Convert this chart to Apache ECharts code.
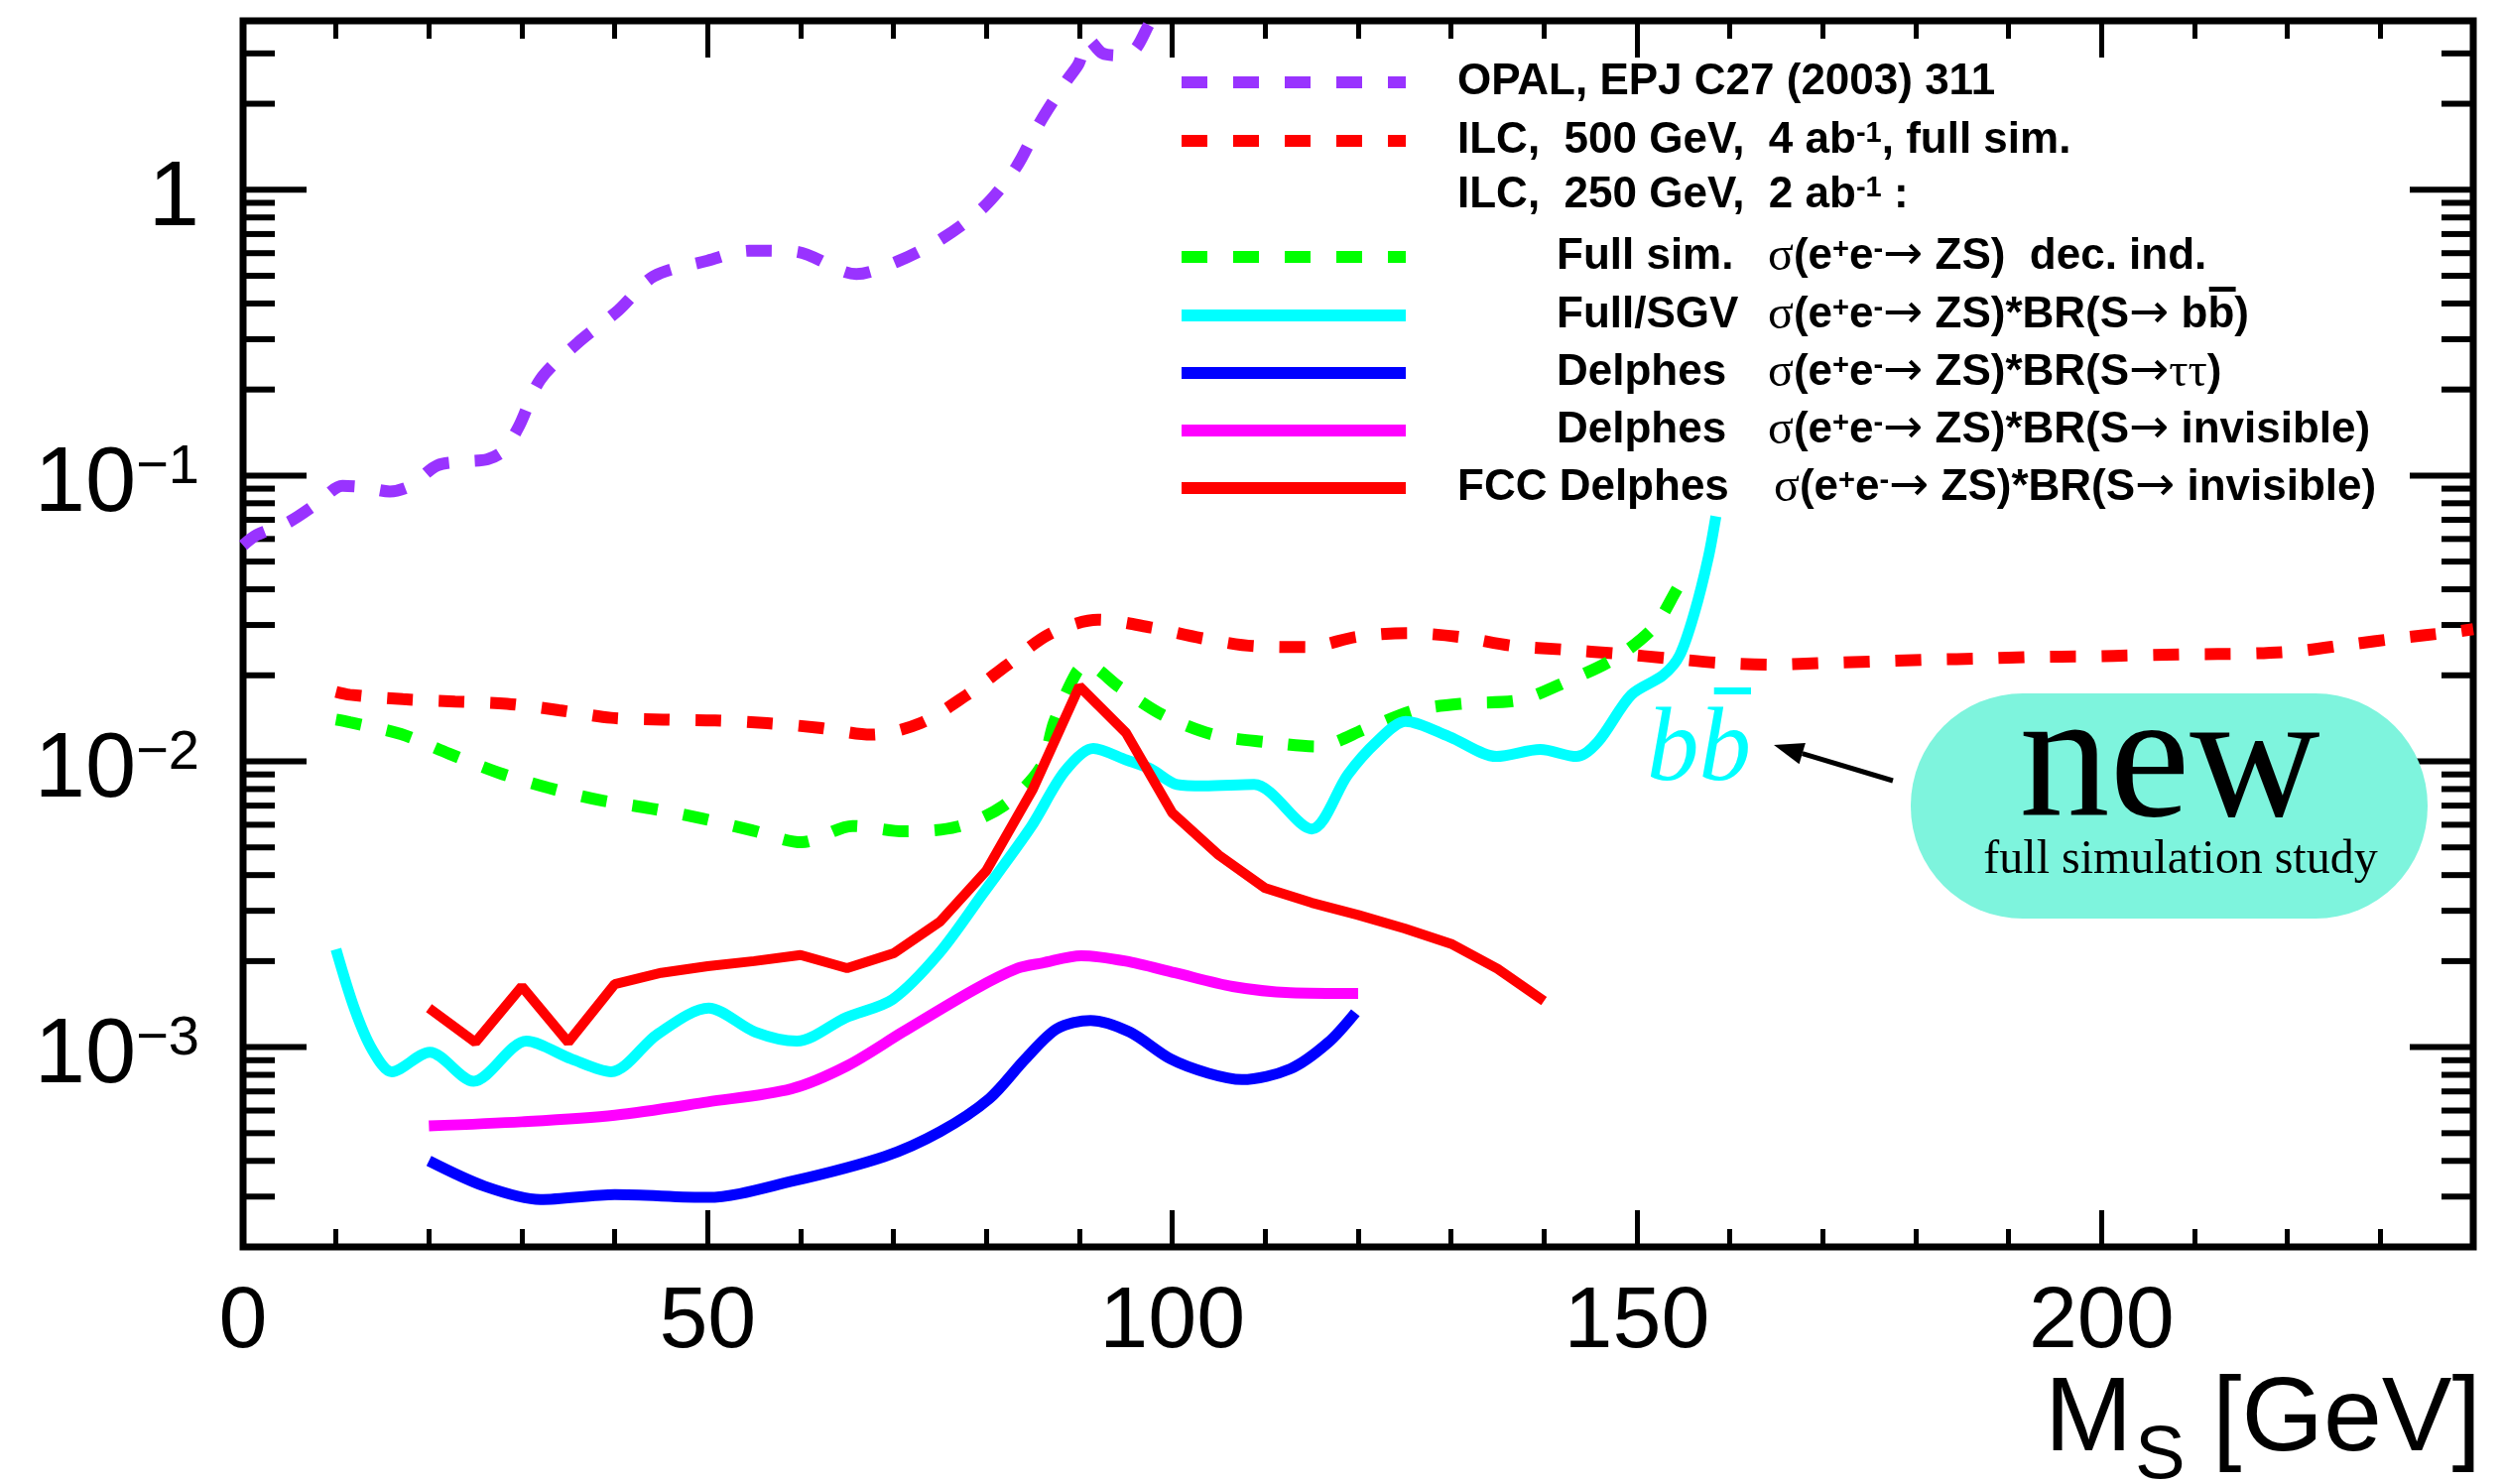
<!DOCTYPE html>
<html><head><meta charset="utf-8">
<script src="https://cdn.jsdelivr.net/npm/echarts@6/dist/echarts.min.js"></script>
<style>html,body{margin:0;padding:0;background:#fff}#c{width:2524px;height:1496px}</style>
</head><body><div id="c"></div>
<script>
// ---------------- data ----------------
const opalX = [0, 1.5, 5, 8, 10.7, 13, 15.8, 18, 20.9, 24, 26.3, 28, 29.7, 32, 36, 40.4, 44.2, 50, 54.5, 59.3, 64.6, 66, 70.4, 75.2, 79.7, 83.2, 85.8, 88.6, 89.9, 91, 92.5, 94.5, 96, 97.5, 99];
const opalY = [0.057, 0.062, 0.069, 0.08, 0.092, 0.091, 0.088, 0.092, 0.1085, 0.112, 0.114, 0.122, 0.149, 0.217, 0.291, 0.379, 0.498, 0.565, 0.612, 0.608, 0.518, 0.507, 0.561, 0.674, 0.869, 1.2, 1.73, 2.4, 2.75, 3.35, 3.0, 2.95, 3.1, 3.8, 4.6];

const ilc500X = [10, 11.5, 17.2, 22.8, 28.4, 34, 39.6, 45.2, 50.8, 56.4, 62, 67.6, 72.9, 77.8, 82.2, 86.8, 92, 97.7, 103.1, 108.8, 114.5, 119.9, 125.4, 131.1, 136.5, 142.2, 147.9, 153.6, 159, 164.6, 170.3, 176, 181.6, 187.2, 192.8, 198.5, 204.1, 209.7, 215.3, 221, 226.5, 232.1, 237.6, 240];
const ilc500Y = [0.0175, 0.0171, 0.0165, 0.0162, 0.0159, 0.0151, 0.0142, 0.014, 0.0139, 0.0136, 0.0131, 0.0124, 0.0136, 0.017, 0.0217, 0.0279, 0.0313, 0.0294, 0.027, 0.0253, 0.0251, 0.0273, 0.0281, 0.0272, 0.0254, 0.0246, 0.0238, 0.0229, 0.0221, 0.0218, 0.0221, 0.0224, 0.0227, 0.0229, 0.0232, 0.0233, 0.0235, 0.0237, 0.0238, 0.0243, 0.0256, 0.027, 0.0283, 0.029];

const fullSimX = [10, 11.5, 17, 22.2, 27.5, 32.8, 38.3, 43.9, 49.4, 54.9, 60.1, 65.6, 71.1, 76.8, 81.8, 85.8, 87.3, 89.7, 90.8, 94.3, 99, 104.4, 110.1, 115.5, 121, 126.1, 131.6, 137.3, 142.4, 147.6, 151.8, 154.3, 155];
const fullSimY = [0.014, 0.0137, 0.01245, 0.01063, 0.00912, 0.00809, 0.00733, 0.00684, 0.00631, 0.00572, 0.00521, 0.00594, 0.00569, 0.0059, 0.00698, 0.00948, 0.01377, 0.0205, 0.0218, 0.0182, 0.01452, 0.0124, 0.01168, 0.01128, 0.01306, 0.0151, 0.01596, 0.01637, 0.019, 0.0229, 0.0294, 0.04, 0.044];

const bbX = [10, 12, 13.9, 16, 20.1, 24.8, 30.5, 35.3, 39.6, 44.6, 50.1, 55.1, 59.6, 64.9, 69.9, 74.9, 79.6, 84.8, 88.4, 91.5, 95.1, 97.7, 100.5, 103.4, 108.8, 115, 118.9, 122, 125.1, 129.8, 134.9, 139.6, 143.5, 145.8, 149.4, 152.8, 154.6, 156.2, 157.7, 158.5];
const bbY = [0.0022, 0.00136, 0.00098, 0.00082, 0.00096, 0.00076, 0.00105, 0.00091, 0.00082, 0.00111, 0.00137, 0.00113, 0.00105, 0.00127, 0.00147, 0.00213, 0.00344, 0.0059, 0.0092, 0.0111, 0.0101, 0.0094, 0.0083, 0.0082, 0.0083, 0.0058, 0.009, 0.0117, 0.0138, 0.0122, 0.0104, 0.011, 0.0104, 0.0117, 0.0171, 0.02, 0.0235, 0.0332, 0.052, 0.072];

const tautauX = [20, 26, 32, 40, 50, 59, 69, 75, 80.3, 84.2, 87.6, 91.2, 95.4, 99.8, 103.9, 107.5, 112.7, 116.8, 119.7];
const tautauY = [0.0004, 0.000326, 0.000293, 0.000305, 0.000298, 0.000339, 0.000414, 0.000506, 0.00066, 0.00091, 0.00116, 0.00124, 0.00113, 0.00091, 0.00081, 0.00077, 0.00084, 0.00104, 0.00132];

const invisX = [20, 30, 40, 50, 59, 65, 71, 78.7, 83.4, 86, 90.2, 95, 100.3, 106.5, 112.7, 120];
const invisY = [0.00053, 0.000548, 0.000578, 0.000643, 0.000715, 0.00086, 0.00113, 0.00159, 0.00189, 0.00197, 0.00209, 0.002, 0.00182, 0.00163, 0.00155, 0.00154];

const fccX = [20, 25, 30, 35, 40, 45, 50, 55, 60, 65, 70, 75, 80, 85, 90, 95, 100, 105, 110, 115, 120, 125, 130, 135, 140];
const fccY = [0.00137, 0.00104, 0.00163, 0.00104, 0.00166, 0.00182, 0.00192, 0.002, 0.0021, 0.00189, 0.00213, 0.00275, 0.00415, 0.0080, 0.0183, 0.0126, 0.0066, 0.0047, 0.0036, 0.0032, 0.0029, 0.0026, 0.0023, 0.00188, 0.00145];

// axes / ticks
const xMin = 0, xMax = 240, xMajorStep = 50, xMinorStep = 10;
const yMin = 2e-4, yMax = 3.9;
const yMajorTickValues = [1e-3, 1e-2, 1e-1, 1];
const yMinorMultipliers = [2, 3, 4, 5, 6, 7, 8, 9];
const yDecades = [-4, -3, -2, -1, 0];

// ---------------- helpers ----------------
const zip = (xs, ys) => xs.map((x, i) => [x, ys[i]]);
const yTicks = []; // [x, value, isMajor]
yMajorTickValues.forEach(v => yTicks.push([xMin, v, 1]));
yDecades.forEach(d => yMinorMultipliers.forEach(m => {
  const v = m * Math.pow(10, d);
  if (v > yMin * 1.01 && v < yMax) yTicks.push([xMin, v, 0]);
}));

const cvs = document.createElement('canvas').getContext('2d');
const RICH = {
  b: {fontFamily: 'Liberation Sans', fontWeight: 'bold', fontSize: 44, lineHeight: 44, fill: '#000'},
  p: {fontFamily: 'Liberation Sans', fontWeight: 'bold', fontSize: 29, lineHeight: 18, verticalAlign: 'top', fill: '#000'},
  g: {fontFamily: 'Liberation Serif', fontWeight: 'normal', fontSize: 48, lineHeight: 44, fill: '#000'},
  a: {fontFamily: 'DejaVu Sans', fontWeight: 'normal', fontSize: 48, lineHeight: 44, fill: '#000'}
};
function tokW(s, t) {
  const st = RICH[s];
  cvs.font = `${st.fontWeight} ${st.fontSize}px "${st.fontFamily}"`;
  return cvs.measureText(t).width;
}
const richStr = toks => toks.map(([s, t]) => `{${s}|${t}}`).join('');

const sigZS = [['g', 'σ'], ['b', '(e'], ['p', '+'], ['b', 'e'], ['p', '-'], ['a', '→'], ['b', ' ZS)']];
const tokDec = sigZS.concat([['b', '  dec. ind.']]);
const tokBB = sigZS.concat([['b', '*BR(S'], ['a', '→'], ['b', ' b'], ['b', 'b'], ['b', ')']]);
const tokTT = sigZS.concat([['b', '*BR(S'], ['a', '→'], ['g', 'ττ'], ['b', ')']]);
const tokInv = sigZS.concat([['b', '*BR(S'], ['a', '→'], ['b', ' invisible)']]);

const rowY = [83, 142, 197, 259, 318, 376, 434, 492];
const legX1 = 1191, legX2 = 1417, legTextX = 1469, legIndentX = 1569, legSigX = 1782;

const elements = [];
function sample(y, color, dashed) {
  elements.push({type: 'line', shape: {x1: legX1, y1: y, x2: legX2, y2: y},
    style: {stroke: color, lineWidth: 12, lineDash: dashed ? [26, 26] : null, lineCap: 'butt'}, z: 10});
}
function rtext(x, y, toks) {
  elements.push({type: 'text', x: x, y: y, z: 10,
    style: {text: richStr(toks), rich: RICH, fill: '#000', align: 'left', verticalAlign: 'middle'}});
}
sample(rowY[0], '#9933ff', true);
sample(rowY[1], '#ff0000', true);
sample(rowY[3], '#00ff00', true);
sample(rowY[4], '#00ffff', false);
sample(rowY[5], '#0000ff', false);
sample(rowY[6], '#ff00ff', false);
sample(rowY[7], '#ff0000', false);
rtext(legTextX, rowY[0], [['b', 'OPAL, EPJ C27 (2003) 311']]);
rtext(legTextX, rowY[1], [['b', 'ILC,  500 GeV,  4 ab'], ['p', '-1'], ['b', ', full sim.']]);
rtext(legTextX, rowY[2], [['b', 'ILC,  250 GeV,  2 ab'], ['p', '-1'], ['b', ' :']]);
rtext(legIndentX, rowY[3], [['b', 'Full sim.']]);
rtext(legSigX, rowY[3], tokDec);
rtext(legIndentX, rowY[4], [['b', 'Full/SGV']]);
rtext(legSigX, rowY[4], tokBB);
rtext(legIndentX, rowY[5], [['b', 'Delphes']]);
rtext(legSigX, rowY[5], tokTT);
rtext(legIndentX, rowY[6], [['b', 'Delphes']]);
rtext(legSigX, rowY[6], tokInv);
rtext(legTextX, rowY[7], [['b', 'FCC Delphes']]);
rtext(legSigX + 6, rowY[7], tokInv);
// overline of the b-bar in the legend
(function () {
  let x = legSigX;
  for (let i = 0; i < tokBB.length - 2; i++) x += tokW(tokBB[i][0], tokBB[i][1]);
  const wb = tokW('b', 'b');
  elements.push({type: 'rect', shape: {x: x + 0.05 * wb, y: rowY[4] - 29, width: wb * 1.0, height: 5},
    style: {fill: '#000'}, z: 10});
})();

// "b b-bar" label
(function () {
  const x0 = 1660, cy = 758;
  elements.push({type: 'text', x: x0, y: cy, z: 10,
    style: {text: 'bb', fontFamily: 'Liberation Serif', fontStyle: 'italic', fontSize: 105,
      fill: '#00ffff', align: 'left', verticalAlign: 'middle'}});
  cvs.font = 'italic 105px "Liberation Serif"';
  const wb = cvs.measureText('b').width;
  elements.push({type: 'rect', shape: {x: x0 + wb * 1.29, y: 693, width: wb * 0.71, height: 7},
    style: {fill: '#00ffff'}, z: 10});
})();
// arrow
(function () {
  const tail = [1908, 787], tip = [1788, 751];
  const dx = tip[0] - tail[0], dy = tip[1] - tail[1];
  const L = Math.hypot(dx, dy), ux = dx / L, uy = dy / L;
  const hl = 30, hw = 11;
  const bx = tip[0] - hl * ux, by = tip[1] - hl * uy;
  elements.push({type: 'line', shape: {x1: tail[0], y1: tail[1], x2: bx, y2: by},
    style: {stroke: '#000', lineWidth: 5}, z: 10});
  elements.push({type: 'polygon', shape: {points: [tip, [bx - uy * hw, by + ux * hw], [bx + uy * hw, by - ux * hw]]},
    style: {fill: '#000'}, z: 10});
})();
// "new" bubble
elements.push({type: 'rect', shape: {x: 1926, y: 699, width: 521, height: 227, r: 113},
  style: {fill: '#7ef4dd'}, z: 5});
elements.push({type: 'text', x: 2187, y: 774, z: 10,
  style: {text: 'new', fontFamily: 'Liberation Serif', fontSize: 182, fill: '#000', align: 'center', verticalAlign: 'middle'}});
elements.push({type: 'text', x: 2198, y: 867, z: 10,
  style: {text: 'full simulation study', fontFamily: 'Liberation Serif', fontSize: 48, fill: '#000', align: 'center', verticalAlign: 'middle'}});
// axis title M_S [GeV]
elements.push({type: 'text', x: 2061, y: 1433, z: 10,
  style: {text: 'M', fontFamily: 'Liberation Sans', fontSize: 106, fill: '#000', align: 'left', verticalAlign: 'middle'}});
elements.push({type: 'text', x: 2152, y: 1469, z: 10,
  style: {text: 'S', fontFamily: 'Liberation Sans', fontSize: 76, fill: '#000', align: 'left', verticalAlign: 'middle'}});
elements.push({type: 'text', x: 2501, y: 1433, z: 10,
  style: {text: '[GeV]', fontFamily: 'Liberation Sans', fontSize: 106, fill: '#000', align: 'right', verticalAlign: 'middle'}});

// ---------------- chart ----------------
const tickStyle = w => ({color: '#000', width: w});
function xAx(position, interval, len, labels) {
  return {type: 'value', gridIndex: 0, position: position, min: xMin, max: xMax, interval: interval,
    axisLine: {show: false, onZero: false}, splitLine: {show: false},
    axisTick: {show: true, inside: true, length: len, lineStyle: tickStyle(5)},
    axisLabel: labels ? {show: true, fontFamily: 'Liberation Sans', fontSize: 88, color: '#000', margin: 33,
      formatter: v => (v % xMajorStep === 0 ? String(v) : '')} : {show: false}};
}
function yAx(position, labels) {
  return {type: 'log', logBase: 10, gridIndex: 0, position: position, min: yMin, max: yMax,
    axisLine: {show: false, onZero: false}, splitLine: {show: false},
    axisTick: {show: false},
    axisLabel: labels ? {show: true, margin: 44, padding: [20, 0, 0, 0],
      formatter: v => {
        const e = Math.log10(v);
        if (Math.abs(e - Math.round(e)) > 1e-6) return '';
        const n = Math.round(e);
        return n === 0 ? '{m|1}' : '{m|10}{s|−' + (-n) + '}';
      },
      rich: {
        m: {fontFamily: 'Liberation Sans', fontSize: 92, lineHeight: 92, color: '#000'},
        s: {fontFamily: 'Liberation Sans', fontSize: 56, lineHeight: 46, verticalAlign: 'top', color: '#000'}
      }} : {show: false}};
}
const lineSeries = (name, xs, ys, color, width, dashed, smooth) => ({
  name: name, type: 'line', xAxisIndex: 0, yAxisIndex: 0, data: zip(xs, ys),
  showSymbol: false, symbol: 'none', smooth: smooth, clip: true, silent: true,
  lineStyle: {color: color, width: width, type: dashed ? [26, 26] : 'solid', cap: 'butt'}
});

const option = {
  backgroundColor: '#ffffff',
  animation: false,
  grid: {left: 245, right: 31, top: 21, bottom: 239, show: true, borderColor: '#000', borderWidth: 7,
    backgroundColor: 'transparent', containLabel: false, outerBoundsMode: 'none'},
  xAxis: [xAx('bottom', xMajorStep, 37, true), xAx('bottom', xMinorStep, 18, false),
          xAx('top', xMajorStep, 37, false), xAx('top', xMinorStep, 18, false)],
  yAxis: [yAx('left', true), yAx('right', false)],
  series: [
    lineSeries('OPAL', opalX, opalY, '#9933ff', 12, true, 0.3),
    lineSeries('ILC500', ilc500X, ilc500Y, '#ff0000', 12, true, 0.3),
    lineSeries('FullSim', fullSimX, fullSimY, '#00ff00', 12, true, 0.3),
    lineSeries('bb', bbX, bbY, '#00ffff', 11, false, 0.3),
    lineSeries('tautau', tautauX, tautauY, '#0000ff', 11, false, 0.3),
    lineSeries('invisible', invisX, invisY, '#ff00ff', 11, false, 0.3),
    lineSeries('FCC', fccX, fccY, '#ff0000', 10, false, false),
    {type: 'custom', name: 'yTicks', xAxisIndex: 0, yAxisIndex: 0, data: yTicks, silent: true, clip: false,
      encode: {x: 0, y: 1},
      renderItem: (params, api) => {
        const v = api.value(1);
        const len = api.value(2) ? 64 : 32;
        const L = api.coord([xMin, v]), R = api.coord([xMax, v]);
        const st = {stroke: '#000', lineWidth: 6};
        return {type: 'group', children: [
          {type: 'line', shape: {x1: L[0], y1: L[1], x2: L[0] + len, y2: L[1]}, style: st},
          {type: 'line', shape: {x1: R[0] - len, y1: R[1], x2: R[0], y2: R[1]}, style: st}
        ]};
      }}
  ],
  graphic: {elements: elements}
};
const chart = echarts.init(document.getElementById('c'), null, {renderer: 'canvas', width: 2524, height: 1496});
chart.setOption(option);
</script>
</body></html>
